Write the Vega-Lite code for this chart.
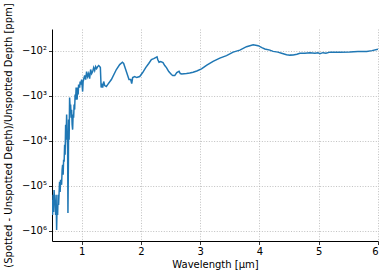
{
  "$schema": "https://vega.github.io/schema/vega-lite/v6.json",
  "width": 326,
  "height": 212,
  "autosize": {"type": "none"},
  "padding": {"left": 52, "top": 29, "right": 11, "bottom": 38},
  "background": "white",
  "config": {
    "view": {"stroke": null},
    "font": "DejaVu Sans",
    "axis": {
      "labelFont": "DejaVu Sans",
      "titleFont": "DejaVu Sans",
      "labelFontSize": 10,
      "titleFontSize": 10,
      "titleFontWeight": "normal",
      "labelColor": "black",
      "titleColor": "black",
      "domainColor": "black",
      "domainWidth": 1,
      "tickColor": "black",
      "tickSize": 3.5,
      "tickWidth": 0.8,
      "gridColor": "#b0b0b0",
      "gridDash": [1, 1.65],
      "gridWidth": 0.8,
      "labelPadding": 2
    }
  },
  "data": {
    "values": [
      {"wl": 0.502, "v": -205000}, {"wl": 0.510, "v": -441000}, {"wl": 0.519, "v": -158000}, {"wl": 0.527, "v": -378000},
      {"wl": 0.535, "v": -123000}, {"wl": 0.544, "v": -264000}, {"wl": 0.552, "v": -205000}, {"wl": 0.561, "v": -441000},
      {"wl": 0.569, "v": -158000}, {"wl": 0.578, "v": -950000}, {"wl": 0.586, "v": -264000}, {"wl": 0.595, "v": -441000},
      {"wl": 0.603, "v": -158000}, {"wl": 0.611, "v": -264000}, {"wl": 0.628, "v": -81500}, {"wl": 0.637, "v": -136000},
      {"wl": 0.645, "v": -73600}, {"wl": 0.662, "v": -95000}, {"wl": 0.671, "v": -44100}, {"wl": 0.679, "v": -34100},
      {"wl": 0.688, "v": -57000}, {"wl": 0.696, "v": -26400}, {"wl": 0.705, "v": -29300}, {"wl": 0.713, "v": -12300},
      {"wl": 0.721, "v": -20500}, {"wl": 0.730, "v": -4410}, {"wl": 0.738, "v": -9500}, {"wl": 0.747, "v": -2640},
      {"wl": 0.755, "v": -7360}, {"wl": 0.764, "v": -15850}, {"wl": 0.769, "v": -398000}, {"wl": 0.777, "v": -26400},
      {"wl": 0.780, "v": -3410}, {"wl": 0.789, "v": -9500}, {"wl": 0.797, "v": -1108}, {"wl": 0.806, "v": -1850},
      {"wl": 0.814, "v": -1585}, {"wl": 0.823, "v": -3080}, {"wl": 0.831, "v": -2050}, {"wl": 0.840, "v": -4410},
      {"wl": 0.848, "v": -5700}, {"wl": 0.856, "v": -2640}, {"wl": 0.865, "v": -3080}, {"wl": 0.873, "v": -1585},
      {"wl": 0.882, "v": -2050}, {"wl": 0.890, "v": -950}, {"wl": 0.899, "v": -1230}, {"wl": 0.907, "v": -664},
      {"wl": 0.916, "v": -815}, {"wl": 0.924, "v": -1230}, {"wl": 0.932, "v": -664}, {"wl": 0.941, "v": -950},
      {"wl": 0.949, "v": -570}, {"wl": 0.966, "v": -664}, {"wl": 0.975, "v": -488}, {"wl": 0.983, "v": -570},
      {"wl": 1.000, "v": -441}, {"wl": 1.017, "v": -815}, {"wl": 1.025, "v": -488}, {"wl": 1.034, "v": -441},
      {"wl": 1.051, "v": -359}, {"wl": 1.068, "v": -441}, {"wl": 1.084, "v": -293}, {"wl": 1.101, "v": -378},
      {"wl": 1.118, "v": -324}, {"wl": 1.135, "v": -419}, {"wl": 1.152, "v": -264}, {"wl": 1.169, "v": -324},
      {"wl": 1.186, "v": -293}, {"wl": 1.203, "v": -239}, {"wl": 1.220, "v": -278}, {"wl": 1.236, "v": -227},
      {"wl": 1.253, "v": -251}, {"wl": 1.270, "v": -227}, {"wl": 1.287, "v": -215}, {"wl": 1.304, "v": -227},
      {"wl": 1.316, "v": -239}, {"wl": 1.329, "v": -664}, {"wl": 1.338, "v": -541}, {"wl": 1.355, "v": -664},
      {"wl": 1.372, "v": -488}, {"wl": 1.389, "v": -600}, {"wl": 1.417, "v": -631}, {"wl": 1.439, "v": -570},
      {"wl": 1.502, "v": -441}, {"wl": 1.586, "v": -264}, {"wl": 1.642, "v": -205}, {"wl": 1.688, "v": -182},
      {"wl": 1.709, "v": -194}, {"wl": 1.743, "v": -264}, {"wl": 1.799, "v": -441}, {"wl": 1.828, "v": -441},
      {"wl": 1.845, "v": -541}, {"wl": 1.861, "v": -398}, {"wl": 1.895, "v": -378}, {"wl": 1.929, "v": -398},
      {"wl": 1.980, "v": -378}, {"wl": 2.030, "v": -308}, {"wl": 2.081, "v": -239}, {"wl": 2.132, "v": -194},
      {"wl": 2.177, "v": -158}, {"wl": 2.216, "v": -151}, {"wl": 2.272, "v": -138}, {"wl": 2.284, "v": -158},
      {"wl": 2.306, "v": -182}, {"wl": 2.334, "v": -176}, {"wl": 2.373, "v": -185}, {"wl": 2.402, "v": -215},
      {"wl": 2.431, "v": -239}, {"wl": 2.470, "v": -293}, {"wl": 2.515, "v": -341}, {"wl": 2.537, "v": -359},
      {"wl": 2.571, "v": -359}, {"wl": 2.605, "v": -308}, {"wl": 2.644, "v": -288}, {"wl": 2.664, "v": -324},
      {"wl": 2.689, "v": -333}, {"wl": 2.769, "v": -324}, {"wl": 2.824, "v": -316}, {"wl": 2.880, "v": -303},
      {"wl": 2.943, "v": -285}, {"wl": 3.022, "v": -255}, {"wl": 3.112, "v": -210}, {"wl": 3.218, "v": -173},
      {"wl": 3.331, "v": -147}, {"wl": 3.444, "v": -129}, {"wl": 3.556, "v": -108}, {"wl": 3.669, "v": -97.5},
      {"wl": 3.782, "v": -81.5}, {"wl": 3.894, "v": -73.6}, {"wl": 3.978, "v": -77.4}, {"wl": 4.041, "v": -85.8},
      {"wl": 4.091, "v": -91.7}, {"wl": 4.176, "v": -97.5}, {"wl": 4.231, "v": -104}, {"wl": 4.311, "v": -108},
      {"wl": 4.373, "v": -114}, {"wl": 4.458, "v": -123}, {"wl": 4.514, "v": -126}, {"wl": 4.569, "v": -125},
      {"wl": 4.632, "v": -120}, {"wl": 4.682, "v": -114}, {"wl": 4.767, "v": -114}, {"wl": 4.851, "v": -112},
      {"wl": 4.936, "v": -114}, {"wl": 4.986, "v": -111}, {"wl": 5.020, "v": -117}, {"wl": 5.071, "v": -111},
      {"wl": 5.122, "v": -114}, {"wl": 5.189, "v": -108}, {"wl": 5.245, "v": -108}, {"wl": 5.358, "v": -108},
      {"wl": 5.527, "v": -107}, {"wl": 5.662, "v": -105}, {"wl": 5.809, "v": -104}, {"wl": 5.899, "v": -100},
      {"wl": 6.000, "v": -92.6}
    ]
  },
  "mark": {"type": "line", "color": "#1f77b4", "strokeWidth": 1.5, "clip": true},
  "encoding": {
    "x": {
      "field": "wl",
      "type": "quantitative",
      "scale": {"domain": [0.5, 6], "nice": false, "zero": false},
      "axis": {"values": [1, 2, 3, 4, 5, 6], "format": "d", "title": "Wavelength [μm]", "titlePadding": 3}
    },
    "y": {
      "field": "v",
      "type": "quantitative",
      "scale": {"type": "symlog", "domain": [-1667000, -32.5], "nice": false, "zero": false},
      "axis": {
        "values": [-1000000, -100000, -10000, -1000, -100],
        "labelExpr": "'−10' + ['⁰','¹','²','³','⁴','⁵','⁶'][round(log(-datum.value)/LN10)]",
        "title": "(Spotted - Unspotted Depth)/Unspotted Depth [ppm]",
        "titlePadding": 8
      }
    }
  }
}
